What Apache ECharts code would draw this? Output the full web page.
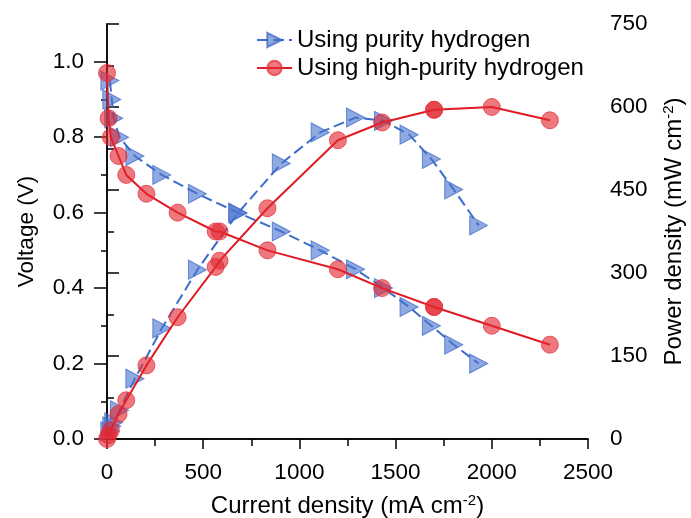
<!DOCTYPE html>
<html>
<head>
<meta charset="utf-8">
<script src="https://cdn.jsdelivr.net/npm/echarts@6/dist/echarts.min.js"></script>
<style>
  html, body { margin: 0; padding: 0; background: #fff; }
  #chart { width: 691px; height: 518px; }
</style>
</head>
<body>
<div id="chart"></div>
<script>
// Polarisation and power-density curves of the fuel cell with two hydrogen grades
const seriesNames = ['Using purity hydrogen', 'Using high-purity hydrogen'];

// purity hydrogen
const purityCurrent = [15, 25, 35, 65, 145, 285, 470, 680, 906, 1108, 1292, 1437, 1570, 1686, 1802, 1932];
const purityVoltage = [0.95, 0.90, 0.85, 0.80, 0.75, 0.70, 0.65, 0.60, 0.55, 0.50, 0.45, 0.40, 0.35, 0.30, 0.25, 0.20];
const purityPower   = [14, 23, 30, 52, 109, 200, 306, 408, 498, 554, 581, 575, 550, 506, 451, 386];

// high-purity hydrogen
const highCurrent = [0, 8, 20, 60, 100, 205, 367, 565, 585, 834, 1200, 1430, 1700, 1700, 2000, 2302];
const highVoltage = [0.97, 0.85, 0.80, 0.75, 0.70, 0.65, 0.60, 0.55, 0.55, 0.50, 0.45, 0.40, 0.35, 0.35, 0.30, 0.25];
const highPower   = [0, 7, 16, 45, 70, 133, 220, 311, 322, 417, 540, 572, 595, 595, 600, 576];

// axis ticks
const currentTicks = [0, 500, 1000, 1500, 2000, 2500];
const voltageTicks = [0.0, 0.2, 0.4, 0.6, 0.8, 1.0];
const voltageMinorTicks = [0.1, 0.3, 0.5, 0.7, 0.9];
const powerTicks = [0, 150, 300, 450, 600, 750];

const zip = (xs, ys) => xs.map((x, i) => [x, ys[i]]);

const FONT = "'Liberation Sans', Arial, sans-serif";
const BLUE_LINE = '#3D6DCA';
const RED_LINE = '#E01B24';
const blueItem = { color: 'rgba(74,116,206,0.62)', borderColor: 'rgba(60,105,200,0.75)', borderWidth: 1 };
const redItem = { color: 'rgba(226,38,48,0.62)', borderColor: 'rgba(228,50,60,0.75)', borderWidth: 1 };

const axisLine = { show: true, lineStyle: { color: '#000', width: 1.5 } };
const tickLine = { color: '#000', width: 1.5 };
const labelStyle = { color: '#000', fontSize: 22.5, fontFamily: FONT };
const nameRich = {
  a: { fontSize: 24, fontFamily: FONT, color: '#000' },
  s: { fontSize: 15, fontFamily: FONT, color: '#000', verticalAlign: 'top', padding: [0, 0, 11, 0] }
};

const chart = echarts.init(document.getElementById('chart'), null, { renderer: 'canvas' });

const blueSeries = (data, yIndex) => ({
  name: seriesNames[0], type: 'line', xAxisIndex: 0, yAxisIndex: yIndex,
  data: data, symbol: 'triangle', symbolSize: [19, 18], symbolRotate: -90,
  lineStyle: { color: BLUE_LINE, width: 2, type: [11, 5] },
  itemStyle: blueItem, z: 2, animation: false
});
const redSeries = (data, yIndex) => ({
  name: seriesNames[1], type: 'line', xAxisIndex: 0, yAxisIndex: yIndex,
  data: data, symbol: 'circle', symbolSize: 17,
  lineStyle: { color: RED_LINE, width: 2 },
  itemStyle: redItem, z: 3, animation: false
});

chart.setOption({
  animation: false,
  backgroundColor: '#fff',
  grid: { left: 107, right: 103, top: 24, bottom: 79, containLabel: false, outerBoundsMode: 'none' },
  legend: {
    data: seriesNames,
    orient: 'vertical', left: 256, top: 28, padding: 0,
    itemGap: 4, itemWidth: 35, itemHeight: 18,
    textStyle: { fontSize: 24, fontFamily: FONT, color: '#000', padding: [0, 0, 0, 0] }
  },
  xAxis: [
    {
      type: 'value', position: 'bottom', min: 0, max: 2500, interval: 500,
      axisLine: axisLine,
      axisTick: { show: true, inside: false, length: 10, lineStyle: tickLine, customValues: currentTicks },
      minorTick: { show: true, splitNumber: 2, length: 7, lineStyle: tickLine },
      axisLabel: Object.assign({ margin: 22, customValues: currentTicks, formatter: v => String(v) }, labelStyle),
      splitLine: { show: false }, minorSplitLine: { show: false },
      name: '{a|Current density (mA cm}{s|-2}{a|)}',
      nameLocation: 'middle', nameGap: 54,
      nameTextStyle: { rich: nameRich }
    },
    {
      type: 'value', position: 'top', min: 0, max: 2500,
      axisLine: axisLine, axisTick: { show: false }, axisLabel: { show: false },
      splitLine: { show: false }
    }
  ],
  yAxis: [
    {
      type: 'value', position: 'left', min: 0, max: 1.1, interval: 0.2,
      axisLine: axisLine,
      axisTick: { show: true, length: 13, lineStyle: tickLine, customValues: voltageTicks },
      axisLabel: Object.assign({ margin: 23, customValues: voltageTicks,
                                 formatter: v => v.toFixed(1) }, labelStyle),
      splitLine: { show: false },
      name: 'Voltage (V)', nameLocation: 'middle', nameGap: 69, nameRotate: 90,
      nameTextStyle: { fontSize: 22.5, fontFamily: FONT, color: '#000' }
    },
    {
      type: 'value', position: 'right', min: 0, max: 750, interval: 150,
      axisLine: axisLine,
      axisTick: { show: true, length: 12, lineStyle: tickLine, customValues: powerTicks },
      minorTick: { show: true, splitNumber: 2, length: 7, lineStyle: tickLine },
      axisLabel: Object.assign({ margin: 22, customValues: powerTicks, formatter: v => String(v) }, labelStyle),
      splitLine: { show: false }, minorSplitLine: { show: false },
      name: '{a|Power density (mW cm}{s|-2}{a|)}',
      nameLocation: 'middle', nameGap: 73, nameRotate: 90,
      nameTextStyle: { rich: nameRich }
    },
    {
      // short ticks between the labelled voltage values
      type: 'value', position: 'left', min: 0, max: 1.1,
      axisLine: { show: false },
      axisTick: { show: true, length: 6, lineStyle: tickLine, customValues: voltageMinorTicks },
      axisLabel: { show: false },
      splitLine: { show: false }
    }
  ],
  series: [
    blueSeries(zip(purityCurrent, purityVoltage), 0),
    blueSeries(zip(purityCurrent, purityPower), 1),
    redSeries(zip(highCurrent, highVoltage), 0),
    redSeries(zip(highCurrent, highPower), 1)
  ]
});
</script>
</body>
</html>
